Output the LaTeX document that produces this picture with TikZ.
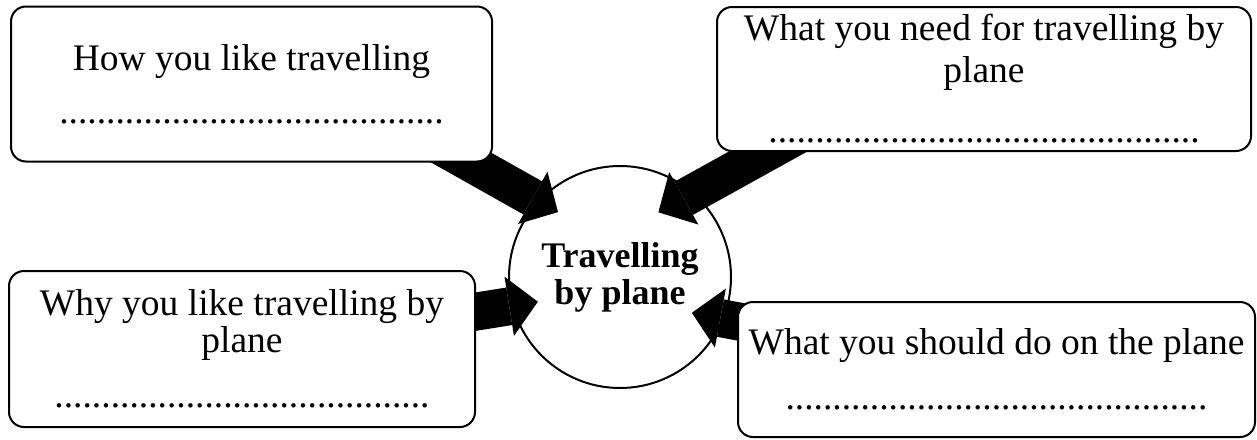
\documentclass[tikz,border=0pt]{standalone}
\usepackage{fontspec}
\setmainfont{Liberation Serif}
\usetikzlibrary{arrows.meta, calc, backgrounds}

\begin{document}
\begin{tikzpicture}[x=0.5pt, y=-0.5pt]

\tikzstyle{topic} = [rectangle, rounded corners=7.5pt, draw=black, line width=1pt, fill=white, align=center, font=\fontsize{18.75}{20}\selectfont]
\tikzstyle{hub} = [circle, draw=black, line width=1pt, minimum size=111pt, inner sep=0pt, outer sep=0pt, align=center, font=\fontsize{18}{18.5}\selectfont\bfseries]
\tikzstyle{bigarrow} = [line width=19pt, -{Triangle[width=30pt, length=14.5pt, line width=0pt]}]

\useasboundingbox (0,0) rectangle (1257,439);

\node[hub] (C) at (620,277) {Travelling\\by plane};

\node[topic, minimum width=240.5pt, minimum height=77.5pt] (Q1) at (251.5,84) {How you like travelling\\[6.5pt]
.........................................};
\node[topic, minimum width=267pt, minimum height=72pt] (Q2) at (984,79) {What you need for travelling by\\[1pt]plane\\[10pt]
..............................................};
\node[topic, minimum width=233pt, minimum height=78pt] (Q3) at (242,349) {Why you like travelling by\\[-1.5pt]plane\\[7.5pt]
........................................};
\node[topic, minimum width=258.5pt, minimum height=67.5pt] (Q4) at (996.5,369.5) {What you should do on the plane\\[7.5pt]
.............................................};

\begin{scope}[on background layer]
\draw[bigarrow, shorten >=-11pt] ($(Q1.south east)+(-64,-23)$) -- (C.137);
\draw[bigarrow, shorten >=-19.7pt] ($(Q2.south west)+(90,-21.5)$) -- (C.49);
\draw[bigarrow, shorten >=-12.7pt] (Q3.center) -- (C.195);
\draw[bigarrow, shorten >=-15.8pt] (Q4.center) -- (C.338);
\end{scope}

\end{tikzpicture}
\end{document}
